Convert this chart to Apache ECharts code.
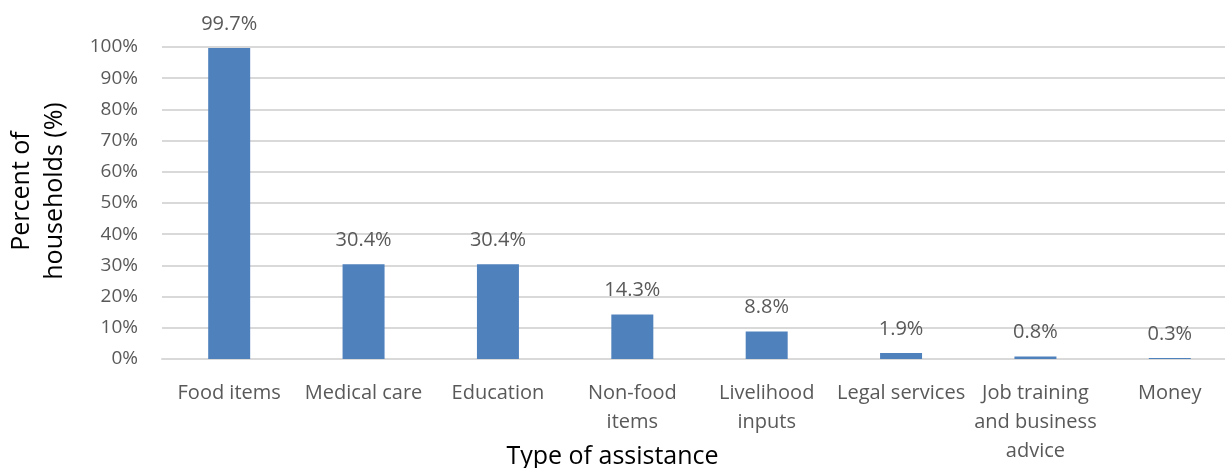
<!DOCTYPE html>
<html>
<head>
<meta charset="utf-8">
<style>
  html, body { margin: 0; padding: 0; background: #fff; }
  #chart { width: 1225px; height: 468px; }
</style>
<script src="https://cdn.jsdelivr.net/npm/echarts@6/dist/echarts.min.js"></script>
</head>
<body>
<div id="chart"></div>
<script>
// categories and values
const categories = [
  'Food items',
  'Medical care',
  'Education',
  'Non-food\nitems',
  'Livelihood\ninputs',
  'Legal services',
  'Job training\nand business\nadvice',
  'Money'
]
const percentHouseholds = [99.7, 30.4, 30.4, 14.3, 8.8, 1.9, 0.8, 0.3]

const font = '"Open Sans", "DejaVu Sans", sans-serif'
const grey = '#595959'

const chart = echarts.init(document.getElementById('chart'))

chart.setOption({
  animation: false,
  textStyle: { fontFamily: font },
  // plot runs a bit past the right edge of the picture, like the original
  grid: { left: 162, top: 47, width: 1075, height: 312, outerBoundsMode: 'none', containLabel: false },
  xAxis: {
    type: 'category',
    data: categories,
    name: 'Type of assistance',
    nameLocation: 'middle',
    nameGap: 85,
    nameMoveOverlap: false,
    // right padding pulls the title left, to the middle of the visible part
    nameTextStyle: { color: '#000', fontSize: 25, fontFamily: font, padding: [0, 174, 0, 0] },
    axisTick: { show: false },
    axisLine: { lineStyle: { color: '#d9d9d9', width: 2 } },
    axisLabel: {
      color: grey,
      fontSize: 20,
      margin: 20,
      lineHeight: 29,
      verticalAlign: 'top',
      interval: 0
    }
  },
  yAxis: {
    type: 'value',
    min: 0,
    max: 100,
    interval: 10,
    name: 'Percent of\nhouseholds (%)',
    nameLocation: 'middle',
    nameRotate: 90,
    nameGap: 91,
    nameMoveOverlap: false,
    nameTextStyle: { color: '#000', fontSize: 25, lineHeight: 33, fontFamily: font, padding: [0, 0, 0, 24] },
    axisLine: { show: false },
    axisTick: { show: false },
    splitLine: { lineStyle: { color: '#d9d9d9', width: 2 } },
    axisLabel: {
      color: grey,
      fontSize: 19,
      margin: 24,
      formatter: '{value}%'
    }
  },
  series: [{
    type: 'bar',
    data: percentHouseholds,
    barWidth: 42,
    itemStyle: { color: '#4f81bd' },
    label: {
      show: true,
      position: 'top',
      distance: 14,
      color: grey,
      fontSize: 20,
      formatter: p => p.value + '%'
    }
  }]
})
</script>
</body>
</html>
